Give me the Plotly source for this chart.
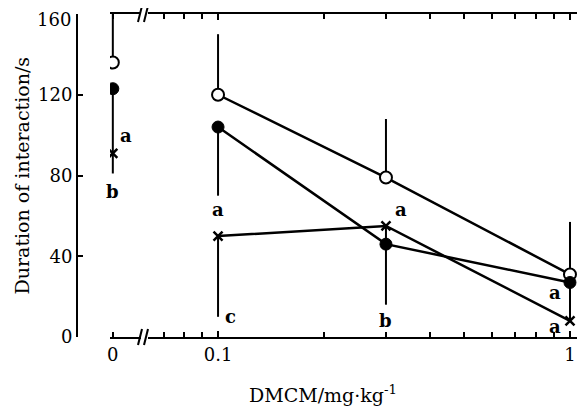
import math
import plotly.graph_objects as go

# ---- data ----
doses = [0, 0.1, 0.3, 1]
dose_labels = ["0", "0.1", "1"]
open_vals = [136, 120, 79, 31]
open_err_plus = [24, 30, 29, 26]
filled_vals = [123, 104, 46, 27]
filled_err_minus = [33, 34, 30, 19]
cross_vals = [91, 50, 55, 8]
cross_err_minus = [10, 40, 9, 0]
y_ticks = [0, 40, 80, 120, 160]
minor_ticks = [0.07, 0.08, 0.09, 0.2, 0.3, 0.4, 0.5, 0.6, 0.7, 0.8, 0.9]

# letters: (dose, value, text, xshift)
letters = [
    (0, 100, "a", 13), (0, 72, "b", 0),
    (0.1, 63, "a", 0), (0.1, 10, "c", 12),
    (0.3, 63, "a", 15), (0.3, 8, "b", 0),
    (1, 22, "a", -15), (1, 5, "a", -15),
]

FONT = "DejaVu Serif"
fig = go.Figure()

series = [
    (open_vals, open_err_plus, None, dict(symbol="circle", size=12, color="white", line=dict(color="black", width=2))),
    (filled_vals, None, filled_err_minus, dict(symbol="circle", size=12, color="black", line=dict(color="black", width=1))),
    (cross_vals, None, cross_err_minus, dict(symbol="x-thin", size=9, color="black", line=dict(color="black", width=2.5))),
]

for vals, plus, minus, marker in series:
    ey = dict(type="data", symmetric=False,
              array=plus if plus else [0] * len(vals),
              arrayminus=minus if minus else [0] * len(vals),
              color="black", thickness=2, width=0)
    fig.add_trace(go.Scatter(
        x=[doses[0]], y=[vals[0]], mode="markers", marker=marker,
        error_y=dict(ey, array=[ey["array"][0]], arrayminus=[ey["arrayminus"][0]]),
        xaxis="x", yaxis="y", showlegend=False))
    fig.add_trace(go.Scatter(
        x=doses[1:], y=vals[1:], mode="lines+markers", marker=marker,
        line=dict(color="black", width=2.5),
        error_y=dict(ey, array=ey["array"][1:], arrayminus=ey["arrayminus"][1:]),
        xaxis="x2", yaxis="y", showlegend=False))

annotations = []
for d, v, t, xs in letters:
    annotations.append(dict(
        x=d if d == 0 else math.log10(d), y=v, xref="x" if d == 0 else "x2", yref="y",
        text=t, showarrow=False, xshift=xs,
        font=dict(family=FONT, size=18, color="black", weight="bold")))

# the page body has an 8px margin: figure coords = page coords - 8
OFF = 8
PW, PH = 506, 323
PL, PT = 77 - OFF, 14 - OFF

TICKFONT = dict(family=FONT, size=18, color="black")

# top y tick label, nudged down so it stays inside the figure
annotations.append(dict(
    x=-4 / PW, y=y_ticks[-1], xref="paper", yref="y", text=str(y_ticks[-1]),
    showarrow=False, xanchor="right", yanchor="middle", yshift=-5, font=TICKFONT))

annotations.append(dict(
    x=(323 - 77) / PW, y=(337 - 394) / PH, xref="paper", yref="paper",
    text="DMCM/mg·kg<sup>-1</sup>", showarrow=False, xanchor="center", yanchor="middle",
    font=dict(family=FONT, size=19, color="black")))
annotations.append(dict(
    x=(21 - 77) / PW, y=0.5, xref="paper", yref="paper",
    text="Duration of interaction/s", showarrow=False, textangle=-90,
    xanchor="center", yanchor="middle",
    font=dict(family=FONT, size=19, color="black")))

axis_common = dict(showline=True, linecolor="black", linewidth=2, ticks="inside",
                   tickcolor="black", tickwidth=2, showgrid=False, zeroline=False,
                   automargin=False, tickfont=TICKFONT)

shapes = []
for yb in [0, 1]:
    for xp in [141, 147]:
        shapes.append(dict(type="line", xref="paper", yref="paper",
                           x0=(xp - 3 - 77) / PW, x1=(xp + 1 - 77) / PW,
                           y0=yb - 8 / PH, y1=yb + 8 / PH,
                           line=dict(color="black", width=2)))

fig.update_layout(
    width=585 - OFF, height=407 - OFF,
    margin=dict(l=PL, r=2, t=PT, b=70, pad=0, autoexpand=False),
    paper_bgcolor="white", plot_bgcolor="white",
    xaxis=dict(axis_common, domain=[(110 - 77) / PW, (141 - 77) / PW], range=[-0.1, 1.0],
               anchor="y", tickvals=[doses[0]], ticktext=[dose_labels[0]], mirror="ticks",
               ticklen=5),
    xaxis2=dict(axis_common, type="log", domain=[(148 - 77) / PW, 1.0], range=[-1.199, 0.037],
                anchor="y", tickvals=[doses[1], doses[3]], ticktext=dose_labels[1:],
                mirror="ticks", ticklen=6,
                minor=dict(tickmode="array", tickvals=minor_ticks, ticks="inside",
                           ticklen=5, tickwidth=1.5, tickcolor="black", showgrid=False)),
    yaxis=dict(axis_common, range=[0, 160], anchor="free", position=0,
               tickvals=y_ticks[:-1], ticklen=5,
               minor=dict(tickmode="array", tickvals=[y_ticks[-1]], ticks="inside",
                          ticklen=5, tickwidth=2, tickcolor="black", showgrid=False)),
    yaxis2=dict(axis_common, range=[0, 160], overlaying="y", side="right", anchor="free",
                position=1, tickvals=y_ticks, ticklen=5, showticklabels=False),
    annotations=annotations, shapes=shapes,
)

fig.write_html("out.html")
